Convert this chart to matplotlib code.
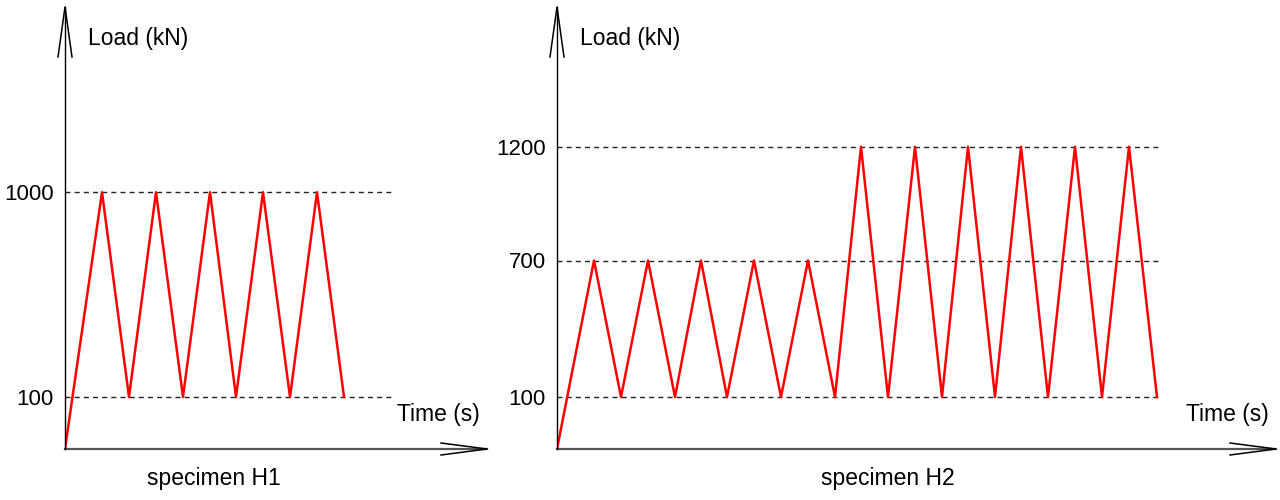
import numpy as np
import matplotlib
matplotlib.use("Agg")
import matplotlib.pyplot as plt
from matplotlib.lines import Line2D

plt.rcParams['font.family'] = ['Liberation Sans', 'DejaVu Sans']

# specimen H1: time (arbitrary units) and load (kN)
h1_time = [0, 37, 64, 91, 118, 145, 171, 198, 225, 252, 279]
h1_load = [0, 1000, 100, 1000, 100, 1000, 100, 1000, 100, 1000, 100]
h1_levels = [100, 1000]

# specimen H2
h2_time = [0, 37, 64, 91, 118, 144, 170, 197, 224, 251, 278,
           304, 331, 358, 385, 411, 438, 464, 491, 518, 545, 572, 600]
h2_load = [0, 700, 100, 700, 100, 700, 100, 700, 100, 700, 100,
           1200, 100, 1200, 100, 1200, 100, 1200, 100, 1200, 100, 1200, 100]
h2_levels = [100, 700, 1200]

W, H = 1280, 500


# schematic load axis: 0-100 stretched, linear above 100
def fwd(y):
    y = np.asarray(y, dtype=float)
    return np.where(y < 100, y * 0.52, 52 + (y - 100) * 0.2275)


def inv(v):
    v = np.asarray(v, dtype=float)
    return np.where(v < 52, v / 0.52, 100 + (v - 52) / 0.2275)


fig = plt.figure(figsize=(12.8, 5), dpi=100)


def fig_line(xs, ys, **kw):
    # xs, ys in pixels from top-left
    fig.add_artist(Line2D([x / W for x in xs], [1 - y / H for y in ys],
                          transform=fig.transFigure, **kw))


def panel(x0, x1, t, load, levels, dash_end, name, name_x):
    y0, y1 = 449, 7
    ax = fig.add_axes([x0 / W, 1 - y0 / H, (x1 - x0) / W, (y0 - y1) / H])
    ax.set_yscale('function', functions=(fwd, inv))
    ax.set_xlim(0, x1 - x0)
    ax.set_ylim(0, float(inv(y0 - y1)))
    for s in ax.spines.values():
        s.set_visible(False)
    ax.set_xticks([])
    ax.set_yticks(levels)
    ax.set_yticklabels([str(v) for v in levels], fontsize=16)
    ax.tick_params(axis='y', length=0, pad=8)
    for lv in levels:
        ax.plot([0, dash_end], [lv, lv], color='#222222', lw=1.0,
                dashes=(3.6, 3.0), zorder=1)
    ax.plot(t, load, color='#ff0000', lw=1.8, zorder=3)

    # axes drawn as arrows with open heads
    fig_line([x0, x1], [y0, y0], color='#555555', lw=1.6)
    fig_line([x1 - 46, x1, x1 - 46], [y0 - 6, y0, y0 + 6], color='black', lw=1.1)
    fig_line([x0, x0], [y0, y1], color='black', lw=1.0)
    fig_line([x0 - 7, x0, x0 + 7], [y1 + 50, y1, y1 + 50], color='black', lw=1.1)

    fig.text((x0 + 23) / W, 1 - 38 / H, 'Load (kN)', fontsize=16.5,
             ha='left', va='center')
    fig.text((x1 - 7) / W, 1 - 415 / H, 'Time (s)', fontsize=16.5,
             ha='right', va='center')
    fig.text(name_x / W, 1 - 479 / H, name, fontsize=16.5,
             ha='center', va='center')
    return ax


panel(65, 487, h1_time, h1_load, h1_levels, 330, 'specimen H1', 214)
panel(557, 1276, h2_time, h2_load, h2_levels, 603, 'specimen H2', 888)

fig.savefig('out.png', dpi=100)
